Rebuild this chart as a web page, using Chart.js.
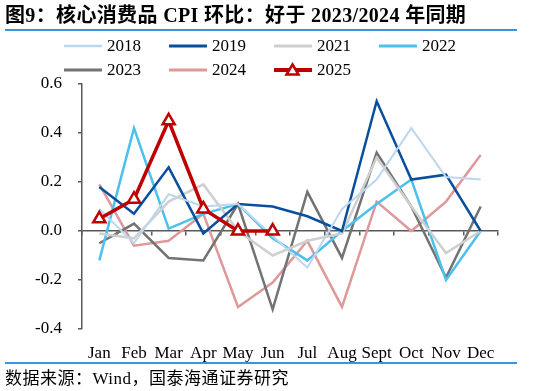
<!DOCTYPE html>
<html>
<head>
<meta charset="utf-8">
<script src="https://cdn.jsdelivr.net/npm/chart.js@4.4.1/dist/chart.umd.min.js"></script>
<style>
  body { margin: 0; background: #fff; width: 537px; height: 391px; overflow: hidden; position: relative;
         font-family: "Liberation Serif", "Noto Sans CJK SC", serif; color: #000; }
  #title { position: absolute; left: 5px; top: 3px; font-size: 20px; font-weight: bold; line-height: 24px;
           letter-spacing: 0.35px; white-space: nowrap; }
  .rule { position: absolute; left: 5px; width: 512px; height: 2px; background: #3b95d8; }
  #chartBox { position: absolute; left: 0; top: 0; width: 537px; height: 363px; }
  .item { position: absolute; height: 20px; display: flex; align-items: center; font-size: 17px; white-space: nowrap; }
  .item span { margin-left: 5px; }
  #source { position: absolute; left: 5px; top: 369px; font-size: 17px; line-height: 20px; letter-spacing: 0.5px; white-space: nowrap; }
</style>
</head>
<body>
<div id="chartBox"><canvas id="cpiChart"></canvas></div>
<div id="title">图9：核心消费品 CPI 环比：好于 2023/2024 年同期</div>
<div class="rule" style="top:29px"></div>
<div id="legend"></div>
<div class="rule" style="top:362px"></div>
<div id="source">数据来源：Wind，国泰海通证券研究</div>

<script>
// months and yearly series (core goods CPI, m/m %)
const months = ["Jan", "Feb", "Mar", "Apr", "May", "Jun", "Jul", "Aug", "Sept", "Oct", "Nov", "Dec"];
const years = ["2018", "2019", "2021", "2022", "2023", "2024", "2025"];

const v2018 = [0.09, -0.05, 0.15, 0.10, 0.11, -0.02, -0.15, 0.09, 0.21, 0.42, 0.22, 0.21];
const v2019 = [0.18, 0.07, 0.26, -0.01, 0.11, 0.10, 0.06, 0.00, 0.53, 0.21, 0.23, 0.00];
const v2021 = [-0.01, -0.03, 0.12, 0.19, 0.00, -0.10, -0.04, -0.01, 0.30, 0.10, -0.09, 0.00];
const v2022 = [-0.12, 0.42, 0.01, 0.07, 0.11, -0.03, -0.12, 0.00, 0.11, 0.21, -0.20, 0.00];
const v2023 = [-0.05, 0.03, -0.11, -0.12, 0.11, -0.32, 0.16, -0.11, 0.32, 0.10, -0.19, 0.10];
const v2024 = [0.19, -0.06, -0.04, 0.07, -0.31, -0.21, -0.04, -0.31, 0.12, 0.00, 0.12, 0.31];
const v2025 = [0.05, 0.13, 0.45, 0.09, 0.00, 0.00, null, null, null, null, null, null];

const yTicks = [-0.4, -0.2, 0.0, 0.2, 0.4, 0.6];

const seriesValues = [v2018, v2019, v2021, v2022, v2023, v2024, v2025];
const lineColors = ["#bdd7ee", "#0a4f9e", "#cfcfcf", "#4bc1ee", "#737373", "#de9a9a", "#c00000"];
const lineWidths = [2, 2.5, 2.5, 2.5, 2.5, 2.5, 3.5];

const axisColor = "#595959";
const tickFont = { family: "Liberation Serif", size: 17 };

// legend (4 columns, 2 rows)
const legendBox = document.getElementById("legend");
years.forEach((name, i) => {
    const col = i % 4, row = Math.floor(i / 4);
    const item = document.createElement("div");
    item.className = "item";
    item.style.left = (64 + col * 105) + "px";
    item.style.top = (36 + row * 24) + "px";
    let marker = "";
    if (name === "2025") {
        marker = '<polygon points="18.5,4.5 24.5,14.5 12.5,14.5" fill="#fff" stroke="' + lineColors[i] + '" stroke-width="2.5"/>';
    }
    item.innerHTML = '<svg width="38" height="20"><line x1="0" y1="10" x2="38" y2="10" stroke="' + lineColors[i] +
        '" stroke-width="' + (lineWidths[i] + 0.5) + '"/>' + marker + '</svg><span>' + name + '</span>';
    legendBox.appendChild(item);
});

const datasets = years.map((name, i) => ({
    label: name,
    data: seriesValues[i],
    borderColor: lineColors[i],
    backgroundColor: name === "2025" ? "#fff" : lineColors[i],
    borderWidth: lineWidths[i],
    tension: 0,
    pointRadius: name === "2025" ? 7 : 0,
    pointStyle: "triangle",
    pointBorderWidth: 2.5,
    pointBackgroundColor: "#fff",
    pointBorderColor: lineColors[i],
    order: name === "2025" ? -1 : 0,
    spanGaps: false
}));

new Chart("cpiChart", {
    type: "line",
    data: { labels: months, datasets: datasets },
    options: {
        responsive: true,
        maintainAspectRatio: false,
        animation: false,
        layout: { padding: { top: 84, right: 39, bottom: 0, left: 0 } },
        plugins: { legend: { display: false }, tooltip: { enabled: false } },
        scales: {
            x: {
                type: "category",
                position: { y: 0 },
                offset: true,
                grid: { offset: true, drawOnChartArea: false, tickLength: 4, color: axisColor, lineWidth: 1.5 },
                border: { color: axisColor, width: 1.5 },
                ticks: { display: false }
            },
            xLabels: {
                type: "category",
                position: "bottom",
                offset: true,
                grid: { display: false },
                border: { display: false },
                ticks: { color: "#000", font: tickFont, padding: 6, autoSkip: false, maxRotation: 0, minRotation: 0 },
                afterFit: (s) => { s.height = 34; }
            },
            y: {
                min: yTicks[0],
                max: yTicks[yTicks.length - 1],
                afterBuildTicks: (s) => { s.ticks = yTicks.map(v => ({ value: v })); },
                ticks: {
                    color: "#000", font: tickFont, padding: 16,
                    callback: (v) => (Math.abs(v) < 1e-9 ? "0.0" : v.toFixed(1))
                },
                grid: { drawOnChartArea: false, tickLength: 4, color: axisColor, lineWidth: 1.5 },
                border: { color: axisColor, width: 1.5 },
                afterFit: (s) => { s.width = 82; }
            }
        }
    }
});
</script>
</body>
</html>
